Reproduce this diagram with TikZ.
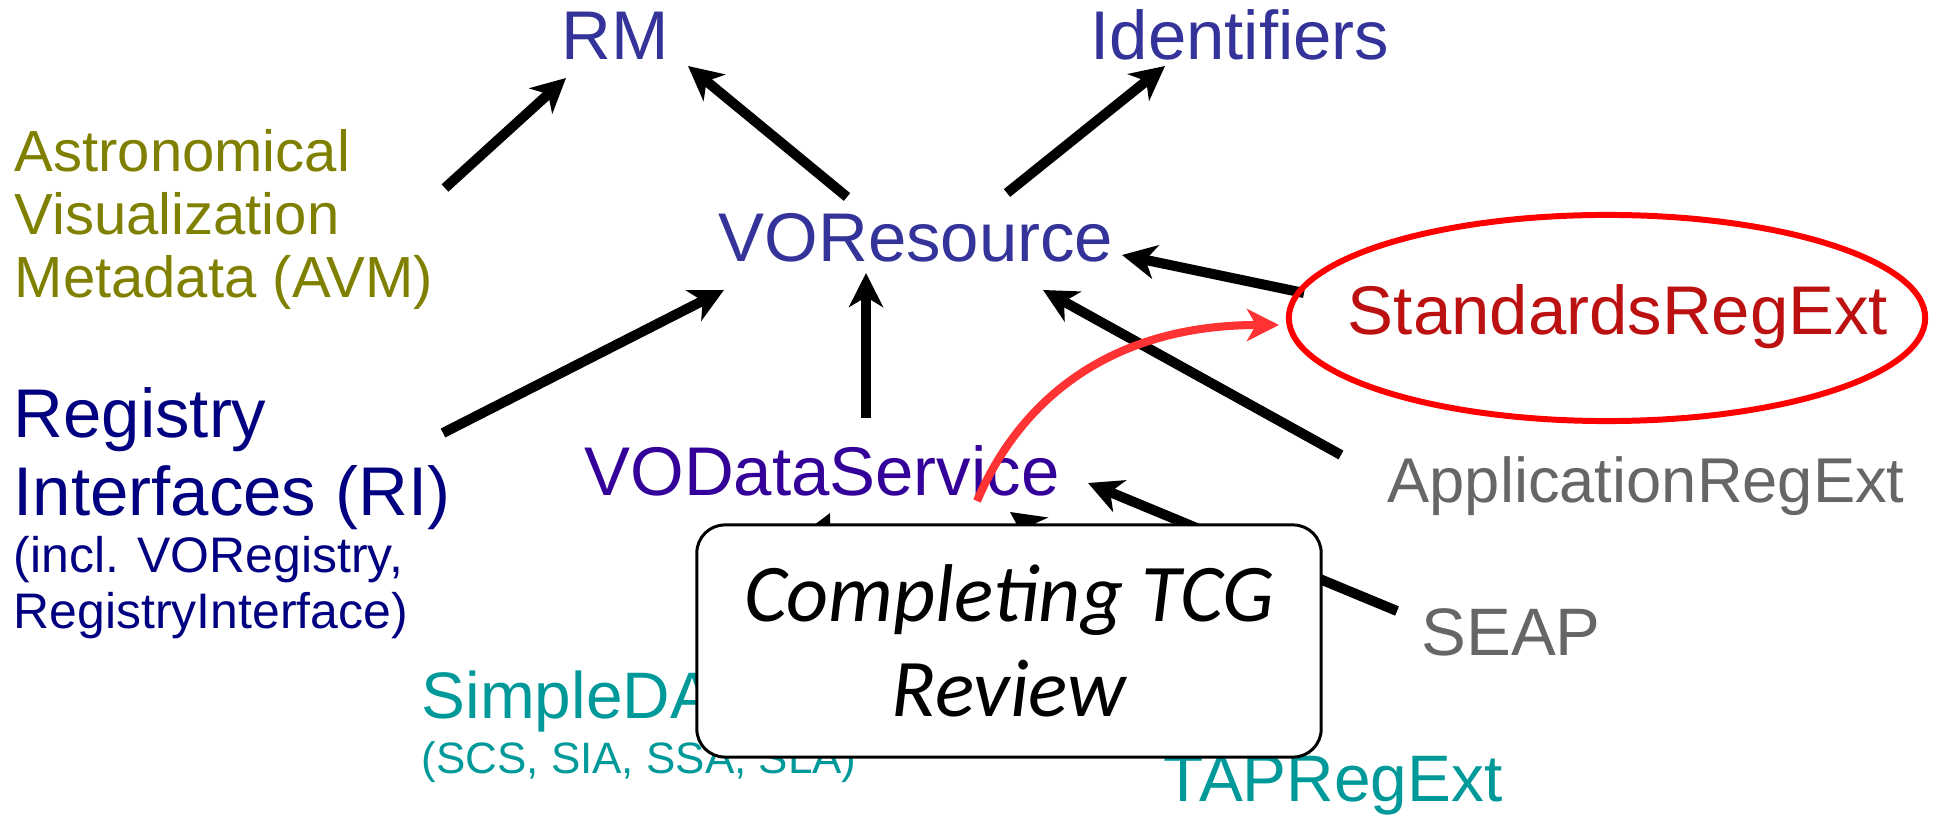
\documentclass[tikz,border=0pt]{standalone}
\usepackage{fontspec}
\usepackage{tikz}
\usetikzlibrary{arrows.meta}
\setmainfont{Liberation Sans}
\newfontfamily\tcgfont{Carlito}
\definecolor{rmblue}{RGB}{51,51,153}
\definecolor{dsblue}{RGB}{51,0,153}
\definecolor{rinavy}{RGB}{0,0,128}
\definecolor{avmolive}{RGB}{128,128,0}
\definecolor{dalteal}{RGB}{0,153,153}
\definecolor{extgray}{RGB}{102,102,102}
\definecolor{stdred}{RGB}{187,17,17}
\definecolor{ringred}{RGB}{255,0,0}
\definecolor{curvered}{RGB}{255,51,51}

\begin{document}
\begin{tikzpicture}[x=0.01cm, y=-0.01cm,
  lbl/.style={inner sep=0pt, anchor=base},
  lblw/.style={inner sep=0pt, anchor=base west},
  big/.style={font=\fontsize{19.6}{22}\selectfont},
  dep/.style={line width=2.85pt, -{Stealth[length=0.34cm, width=0.34cm, inset=0.1cm]}},
  ring/.style={draw=ringred, line width=1.7pt},
  hint/.style={draw=curvered, line width=2.3pt, -{Stealth[length=0.32cm, width=0.32cm, inset=0.09cm]}},
  review/.style={draw, fill=white, rounded corners=0.28cm, line width=0.85pt, inner sep=0pt,
    minimum width=6.24cm, minimum height=2.32cm, align=center,
    font=\tcgfont\itshape\fontsize{23.3}{27}\selectfont}]
\useasboundingbox (0,0) rectangle (1940,816);

\node[lbl, big, text=rmblue] (rm) at (615,60) {RM};
\node[lbl, big, text=rmblue] (ident) at (1240,60) {Identifiers};
\node[lbl, big, text=rmblue] (vores) at (916,262) {VOResource};
\node[lbl, big, text=dsblue] (vods) at (822,495) {VODataService};
\node[lbl, big, text=stdred] (std) at (1618,335) {StandardsRegExt};
\node[lbl, text=extgray, font=\fontsize{18}{21}\selectfont] (app) at (1646,503) {ApplicationRegExt};
\node[lbl, text=extgray, font=\fontsize{19.1}{22}\selectfont] (seap) at (1511,656) {SEAP};
\node[lbl, text=dalteal, font=\fontsize{18.7}{22}\selectfont] (tap) at (1333,801) {TAPRegExt};

\node[lblw, text=avmolive, font=\fontsize{16.5}{19}\selectfont] (avm1) at (14,172) {Astronomical};
\node[lblw, text=avmolive, font=\fontsize{16.5}{19}\selectfont] (avm2) at (14,235) {Visualization};
\node[lblw, text=avmolive, font=\fontsize{16.5}{19}\selectfont] (avm3) at (14,298) {Metadata (AVM)};

\node[lblw, big, text=rinavy] (ri1) at (13,438) {Registry};
\node[lblw, big, text=rinavy] (ri2) at (13,515) {Interfaces (RI)};
\node[lblw, text=rinavy, font=\fontsize{14.2}{16}\selectfont] (ri3) at (13,573) {(incl. VORegistry,};
\node[lblw, text=rinavy, font=\fontsize{14.2}{16}\selectfont] (ri4) at (13,628) {RegistryInterface)};

\node[lblw, text=dalteal, font=\fontsize{18.7}{22}\selectfont] (sdal) at (421,718) {SimpleDAL};
\node[lblw, text=dalteal, font=\fontsize{12.5}{14}\selectfont] (scs) at (421,773) {(SCS, SIA, SSA, SLA)};

\draw[dep] ([shift={(431,16)}]avm1.base west) -- ([shift={(-49,18)}]rm.base);
\draw[dep] ([shift={(-69,-65)}]vores.base) -- ([shift={(73,6)}]rm.base);
\draw[dep] ([shift={(91,-69)}]vores.base) -- ([shift={(-75,6)}]ident.base);
\draw[dep] ([shift={(430,-5)}]ri1.base west) -- ([shift={(-192,28)}]vores.base);
\draw[dep] ([shift={(44,-77)}]vods.base) -- ([shift={(-50,11)}]vores.base);
\draw[dep] ([shift={(-314,-42)}]std.base) -- ([shift={(206,-7)}]vores.base);
\draw[dep] ([shift={(-305,-48)}]app.base) -- ([shift={(127,28)}]vores.base);
\draw[dep] ([shift={(-114,-45)}]seap.base) -- ([shift={(266,-12)}]vods.base);
\draw[dep] ([shift={(343,-70)}]sdal.base west) -- ([shift={(8,18)}]vods.base);
\draw[dep] ([shift={(-123,-149)}]tap.base) -- ([shift={(188,17)}]vods.base);

\draw[ring] ([shift={(-11,-17)}]std.base) ellipse [x radius=3.18cm, y radius=1.03cm];

\node[review] (tcg) at (1009,641) {Completing TCG\\Review};

\draw[hint] ([shift={(155,6)}]vods.base) .. controls +(43,-101) and +(-169,0) .. ([shift={(-339,-10)}]std.base);
\end{tikzpicture}
\end{document}
